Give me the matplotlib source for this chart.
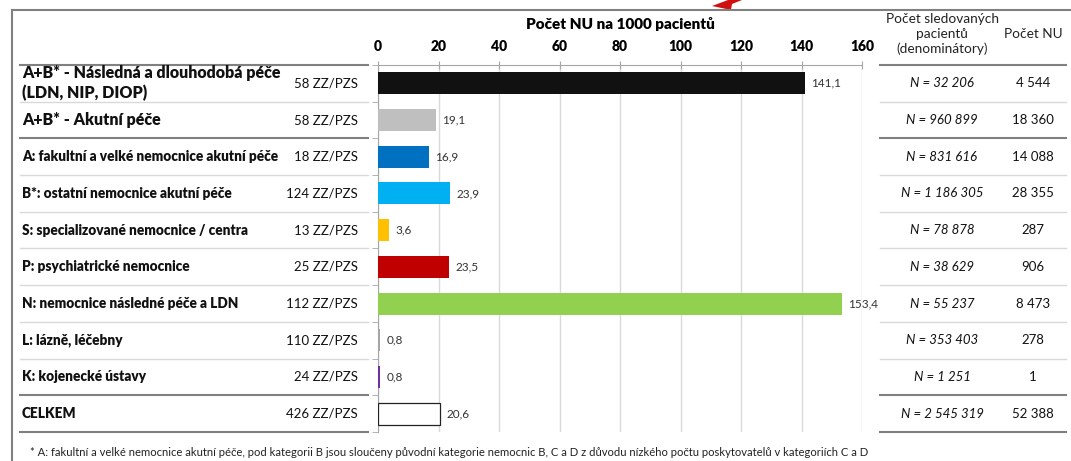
import matplotlib
matplotlib.use('Agg')
import matplotlib.pyplot as plt
from matplotlib import transforms
from matplotlib.patches import Polygon
import numpy as np

# data
labels = ['A+B* - Následná a dlouhodobá péče\n(LDN, NIP, DIOP)',
          'A+B* - Akutní péče',
          'A: fakultní a velké nemocnice akutní péče',
          'B*: ostatní nemocnice akutní péče',
          'S: specializované nemocnice / centra',
          'P: psychiatrické nemocnice',
          'N: nemocnice následné péče a LDN',
          'L: lázně, léčebny',
          'K: kojenecké ústavy',
          'CELKEM']
providers = ['58 ZZ/PZS', '58 ZZ/PZS', '18 ZZ/PZS', '124 ZZ/PZS', '13 ZZ/PZS',
             '25 ZZ/PZS', '112 ZZ/PZS', '110 ZZ/PZS', '24 ZZ/PZS', '426 ZZ/PZS']
rate = [141.1, 19.1, 16.9, 23.9, 3.6, 23.5, 153.4, 0.8, 0.8, 20.6]
denominators = ['N = 32 206', 'N = 960 899', 'N = 831 616', 'N = 1 186 305',
                'N = 78 878', 'N = 38 629', 'N = 55 237', 'N = 353 403',
                'N = 1 251', 'N = 2 545 319']
counts = ['4 544', '18 360', '14 088', '28 355', '287', '906', '8 473',
          '278', '1', '52 388']
ticks = [0, 20, 40, 60, 80, 100, 120, 140, 160]

colors = ['#111111', '#bfbfbf', '#0070c0', '#00b0f0', '#ffc000', '#c00000',
          '#92d050', '#a6a6a6', '#7030a0', 'white']

W, H = 1071, 461
plt.rcParams['font.family'] = ['Lato', 'DejaVu Sans']

fig = plt.figure(figsize=(W / 100, H / 100), dpi=100)
ax = fig.add_axes([378 / W, 1 - 432 / H, 484 / W, 367 / H])

y = np.arange(len(rate))
ax.barh(y, rate, height=0.6, color=colors, edgecolor=colors[:-1] + ['#222222'],
        linewidth=[0] * 9 + [0.9], zorder=3)
for yi, v in zip(y, rate):
    ax.text(v + 2, yi, f'{v:.1f}'.replace('.', ','), va='center', ha='left',
            fontsize=8.5, color='#333333')

ax.set_xlim(0, 160)
ax.set_ylim(9.5, -0.5)
ax.xaxis.tick_top()
ax.set_xticks(ticks)
ax.tick_params(axis='x', direction='inout', length=6, color='#a6a6a6', pad=6,
               labelsize=10)
for t in ax.get_xticklabels():
    t.set_fontweight('heavy')
ax.set_yticks([])
ax.set_yticks(np.arange(-0.5, 10, 1), minor=True)
ax.tick_params(axis='y', which='minor', direction='out', length=4, color='#a6a6a6')
ax.grid(axis='x', color='#d9d9d9', linewidth=1, zorder=0)
for s in ['right', 'bottom']:
    ax.spines[s].set_visible(False)
ax.spines['top'].set_color('#a6a6a6')
ax.spines['left'].set_color('#a6a6a6')
ax.set_title('Počet NU na 1000 pacientů', fontsize=11, fontweight='heavy', pad=26)

# tables left and right of the chart, rows follow the data axis
tr = transforms.blended_transform_factory(fig.transFigure, ax.transData)
dark = [-0.5, 1.5, 8.5, 9.5]
for b in np.arange(-0.5, 10, 1):
    c = '#808080' if b in dark else '#d9d9d9'
    lw = 1.5 if b in dark else 1
    for x0, x1 in [(20, 368), (880, 1066)]:
        ax.plot([x0 / W, x1 / W], [b, b], transform=tr, color=c, lw=lw,
                clip_on=False)

for i in range(len(labels)):
    big = i < 2
    ax.text(22 / W, i, labels[i], transform=tr, va='center', ha='left',
            fontsize=11.5 if big else 9.8, fontweight='heavy', color='#111111',
            linespacing=1.3)
    ax.text(358 / W, i, providers[i], transform=tr, va='center', ha='right',
            fontsize=9.5, color='#111111')
    ax.text(942 / W, i, denominators[i], transform=tr, va='center',
            ha='center', fontsize=9.5, style='italic', color='#111111')
    ax.text(1033 / W, i, counts[i], transform=tr, va='center', ha='center',
            fontsize=9.5, color='#111111')

fig.text(942 / W, 1 - 34 / H, 'Počet sledovaných\npacientů\n(denominátory)',
         ha='center', va='center', fontsize=9.8, linespacing=1.3,
         color='#222222')
fig.text(1033 / W, 1 - 34 / H, 'Počet NU', ha='center', va='center',
         fontsize=9.8, color='#222222')

fig.text(30 / W, 1 - 452 / H,
         '* A: fakultní a velké nemocnice akutní péče, pod kategorii B jsou '
         'sloučeny původní kategorie nemocnic B, C a D z důvodu nízkého počtu '
         'poskytovatelů v kategoriích C a D',
         ha='left', va='center', fontsize=8.1, color='#222222')

# outer frame and red arrow fragment at the top
fig.add_artist(plt.Line2D([12 / W, 1], [1 - 10 / H, 1 - 10 / H],
                          transform=fig.transFigure, color='#808080', lw=1.5))
fig.add_artist(plt.Line2D([12 / W, 12 / W], [1 - 10 / H, 0],
                          transform=fig.transFigure, color='#808080', lw=1.5))
arrow = np.array([[712, 6], [728, 0], [742, 0], [732, 4], [731, 10]])
fig.add_artist(Polygon(np.column_stack([arrow[:, 0] / W, 1 - arrow[:, 1] / H]),
                       closed=True, transform=fig.transFigure,
                       color='#d01010', lw=0))

fig.savefig('out.png', dpi=100)
